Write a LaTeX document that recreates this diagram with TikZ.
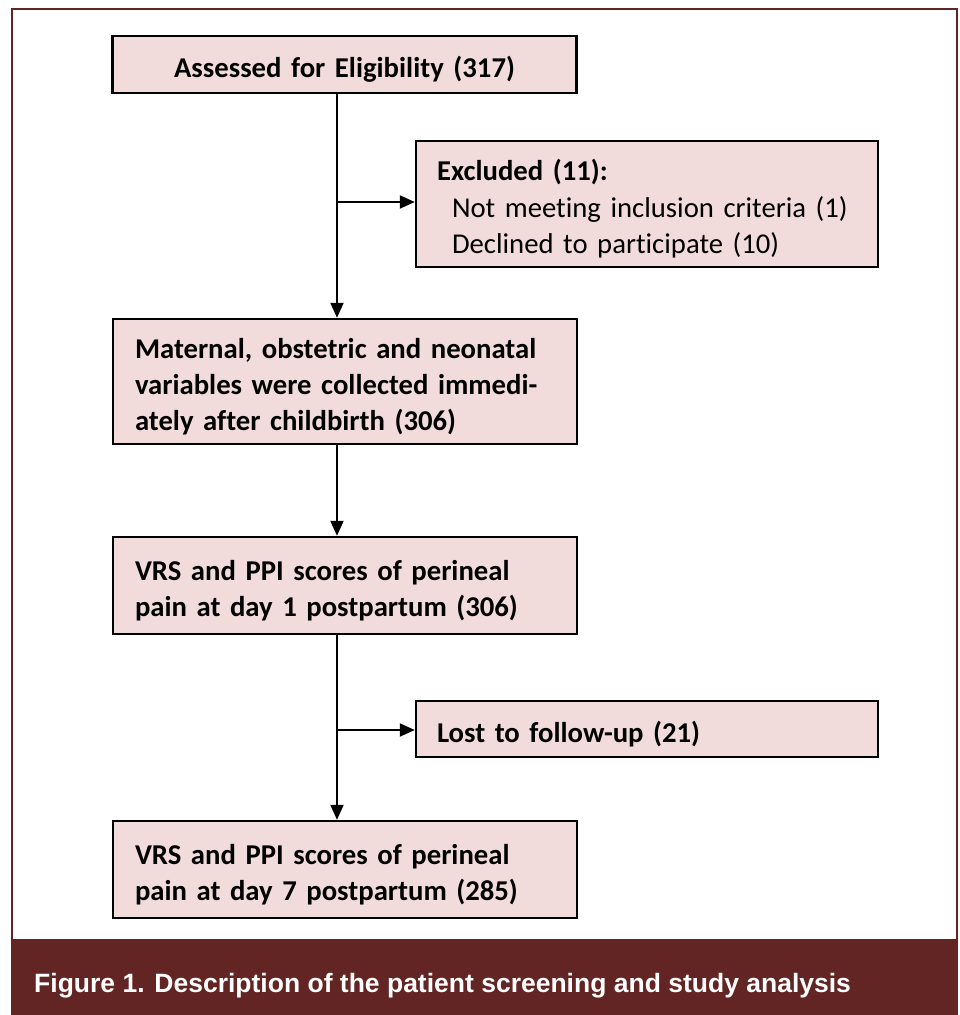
\documentclass[tikz,border=0pt]{standalone}
\usepackage{fontspec}
\setmainfont{Carlito}[Ligatures=NoCommon]
\newfontfamily\capfont{Liberation Sans}
\usetikzlibrary{arrows.meta}
\definecolor{darkred}{HTML}{632523}
\definecolor{pinkfill}{HTML}{F2DCDB}
\begin{document}
\begin{tikzpicture}[x=1pt,y=-1pt,
  box/.style={draw=black,line width=2.4pt,fill=pinkfill,minimum height=#1,inner xsep=22pt,inner ysep=0pt,
    text height=31pt,text width=420pt,align=left,font=\fontsize{28.7}{36}\selectfont\bfseries},
  box/.default=97pt,
  sidebox/.style={draw=black,line width=2.4pt,fill=pinkfill,minimum height=#1,inner xsep=21pt,inner ysep=0pt,
    text height=31pt,text width=420pt,align=left,font=\fontsize{28.7}{36.5}\selectfont},
  conn/.style={line width=2pt,-{Triangle[length=15pt,width=13pt]}},
  link/.style={line width=2pt}]
\useasboundingbox (0,0) rectangle (959,1015);
\fill[white] (0,0) rectangle (959,1015);
\draw[darkred,line width=2pt] (12,9) rectangle (957,940);
\fill[darkred] (11,940) rectangle (958,1015);
\node[anchor=west,text=white,font=\capfont\fontsize{26.5}{30}\selectfont\bfseries,inner sep=0pt] (cap) at (34,986) {Figure 1. Description of the patient screening and study analysis};

\node[box=57pt,align=center] (b1) at (344.5,64.5) {Assessed for Eligibility (317)};
\node[sidebox=126pt] (ex) at (647,204) {\textbf{Excluded (11):}\\\hspace*{15pt}Not meeting inclusion criteria (1)\\\hspace*{15pt}Declined to participate (10)};
\node[box=125pt] (b3) at (345,381.5) {Maternal, obstetric and neonatal\\variables were collected immedi-\\ately after childbirth (306)};
\node[box] (b4) at (345,585.5) {VRS and PPI scores of perineal\\pain at day 1 postpartum (306)};
\node[sidebox=56pt,font=\fontsize{28.7}{36}\selectfont\bfseries] (lost) at (647,729) {Lost to follow-up (21)};
\node[box] (b5) at (345,869.5) {VRS and PPI scores of perineal\\pain at day 7 postpartum (285)};

\coordinate (c1) at (337,202);
\coordinate (c2) at (337,730);
\draw[conn] (b1.south -| c1) -- (b3.north -| c1);
\draw[conn] (c1) -- (ex.west |- c1);
\draw[conn] (b3.south -| c1) -- (b4.north -| c1);
\draw[conn] (b4.south -| c2) -- (b5.north -| c2);
\draw[conn] (c2) -- (lost.west |- c2);
\end{tikzpicture}
\end{document}
